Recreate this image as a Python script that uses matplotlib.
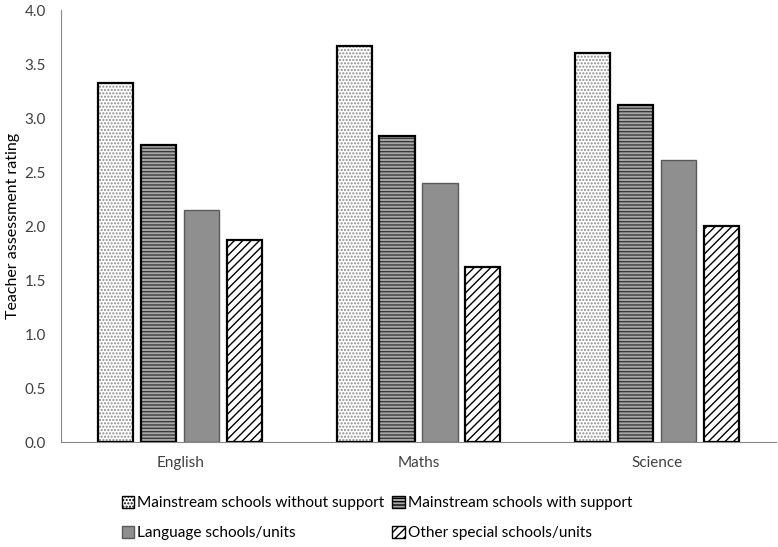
import numpy as np
import matplotlib
matplotlib.use("Agg")
import matplotlib.pyplot as plt
from matplotlib.patches import Patch

plt.rcParams['font.family'] = ['Lato', 'DejaVu Sans']
plt.rcParams['hatch.linewidth'] = 1.0

subjects = ['English', 'Maths', 'Science']
series_names = ['Mainstream schools without support', 'Mainstream schools with support',
                'Language schools/units', 'Other special schools/units']
no_support = [3.32, 3.67, 3.60]
with_support = [2.75, 2.83, 3.12]
language_units = [2.15, 2.40, 2.61]
other_special = [1.87, 1.62, 2.00]
y_ticks = [0.0, 0.5, 1.0, 1.5, 2.0, 2.5, 3.0, 3.5, 4.0]

series = [no_support, with_support, language_units, other_special]
# face, hatch, hatch colour, outline colour
styles = [
    ('white', '.....', '#8a8a8a', 'black'),
    ('#a8a8a8', '-----', '#3a3a3a', 'black'),
    ('#8f8f8f', '', '#8f8f8f', '#5a5a5a'),
    ('white', '////', 'black', 'black'),
]

fig = plt.figure(figsize=(7.78, 5.47), dpi=100)
ax = fig.add_axes([61 / 778, 1 - 442 / 547, 715 / 778, 432 / 547])

x = np.arange(len(subjects))
width = 0.148
step = 0.18
handles = []
for i, (vals, st) in enumerate(zip(series, styles)):
    face, hatch, hcol, ecol = st
    pos = x + (i - 1.5) * step
    ax.bar(pos, vals, width, color=face, hatch=hatch, edgecolor=hcol, linewidth=0, zorder=2)
    lw = 1.0 if i == 2 else 1.6
    ax.bar(pos, vals, width, fill=False, edgecolor=ecol, linewidth=lw, zorder=3)
    handles.append(Patch(facecolor=face, hatch=hatch, edgecolor=ecol, label=series_names[i]))

ax.set_xlim(-0.5, 2.5)
ax.set_ylim(0, 4.0)
ax.set_yticks(y_ticks)
ax.set_yticklabels([f'{v:.1f}' for v in y_ticks], fontsize=11, color='#404040')
ax.set_xticks(x)
ax.set_xticklabels(subjects, fontsize=11, color='#404040')
ax.tick_params(axis='y', length=0, pad=11)
ax.tick_params(axis='x', length=0, pad=10)
ax.set_ylabel('Teacher assessment rating', fontsize=11.5, color='black', labelpad=3)

for s in ['top', 'right']:
    ax.spines[s].set_visible(False)
ax.spines['left'].set_color('#888888')
ax.spines['bottom'].set_color('#888888')

# legend fills row by row in the reference
order = [0, 2, 1, 3]
fig.legend(handles=[handles[k] for k in order], loc='center',
           bbox_to_anchor=(377 / 778, 1 - 518 / 547), ncol=2,
           frameon=False, fontsize=11.1, handlelength=0.8, handleheight=0.8,
           handletextpad=0.2, columnspacing=0.5, labelspacing=1.0)

fig.savefig('out.png', dpi=100)
